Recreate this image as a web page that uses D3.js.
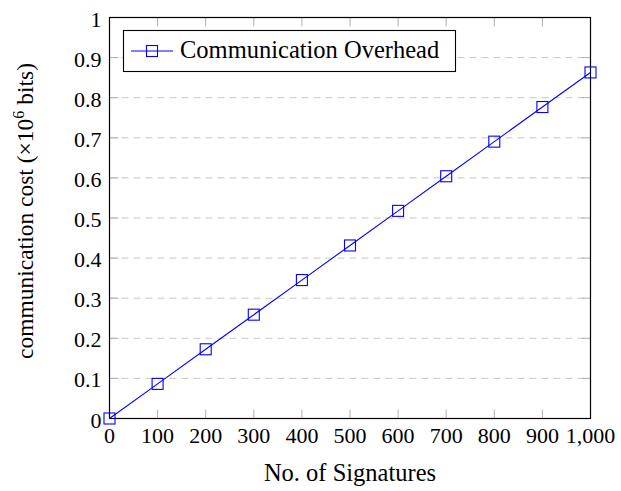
<!DOCTYPE html>
<html>
<head>
<meta charset="utf-8">
<script src="https://cdn.jsdelivr.net/npm/d3@7"></script>
<style>
body { margin: 0; background: #fff; }
text { font-family: "Liberation Serif", "DejaVu Serif", serif; }
</style>
</head>
<body>
<script>
// data
var signatures = [0, 100, 200, 300, 400, 500, 600, 700, 800, 900, 1000];
var overhead = [0, 0.0863, 0.1726, 0.2589, 0.3452, 0.4315, 0.5178, 0.6041, 0.6904, 0.7767, 0.863];
var yTicks = [0, 0.1, 0.2, 0.3, 0.4, 0.5, 0.6, 0.7, 0.8, 0.9, 1];
var seriesName = "Communication Overhead";

var w = 621, h = 491;
var pLeft = 109.5, pRight = 590.5, pTop = 17.5, pBottom = 418.5;

var svg = d3.select("body").append("svg")
    .attr("width", w)
    .attr("height", h);

var x = d3.scaleLinear().domain([0, 1000]).range([pLeft, pRight]);
var y = d3.scaleLinear().domain([0, 1]).range([pBottom, pTop]);

// dashed grid
svg.append("g").selectAll("line")
    .data(yTicks.slice(1, -1))
    .enter().append("line")
    .attr("x1", pLeft).attr("x2", pRight)
    .attr("y1", d => y(d)).attr("y2", d => y(d))
    .style("stroke", "#c8c8c8")
    .style("stroke-width", 1)
    .style("stroke-dasharray", "7,5");

// inward ticks, mirrored
var tk = 9;
var ticks = svg.append("g").style("stroke", "#b0b0b0").style("stroke-width", 1);
signatures.slice(1, -1).forEach(function(d) {
    ticks.append("line").attr("x1", x(d)).attr("x2", x(d)).attr("y1", pBottom).attr("y2", pBottom - tk);
    ticks.append("line").attr("x1", x(d)).attr("x2", x(d)).attr("y1", pTop).attr("y2", pTop + tk);
});
yTicks.slice(1, -1).forEach(function(d) {
    ticks.append("line").attr("x1", pLeft).attr("x2", pLeft + tk).attr("y1", y(d)).attr("y2", y(d));
    ticks.append("line").attr("x1", pRight).attr("x2", pRight - tk).attr("y1", y(d)).attr("y2", y(d));
});

// frame
svg.append("rect")
    .attr("x", pLeft).attr("y", pTop)
    .attr("width", pRight - pLeft).attr("height", pBottom - pTop)
    .style("fill", "none").style("stroke", "#000").style("stroke-width", 1.2);

// tick labels
var fmt = d3.format(",");
svg.append("g").selectAll("text")
    .data(signatures)
    .enter().append("text")
    .attr("x", d => x(d))
    .attr("y", 443)
    .attr("text-anchor", "middle")
    .style("font-size", "22px")
    .text(d => fmt(d));

svg.append("g").selectAll("text")
    .data(yTicks)
    .enter().append("text")
    .attr("x", pLeft - 8)
    .attr("y", d => y(d) + 9)
    .attr("text-anchor", "end")
    .style("font-size", "22px")
    .text(d => d);

// axis titles
svg.append("text")
    .attr("x", 350)
    .attr("y", 481)
    .attr("text-anchor", "middle")
    .style("font-size", "24.5px")
    .text("No. of Signatures");

var yl = svg.append("text")
    .attr("transform", "translate(33,211) rotate(-90)")
    .attr("text-anchor", "middle")
    .style("font-size", "23.5px");
yl.append("tspan").text("communication cost (\u00d710");
yl.append("tspan").attr("dy", -9).style("font-size", "16px").text("6");
yl.append("tspan").attr("dy", 9).text(" bits)");

// series
var line = d3.line().x((d, i) => x(signatures[i])).y(d => y(d));
svg.append("path")
    .datum(overhead)
    .attr("d", line)
    .style("fill", "none").style("stroke", "#0000ff").style("stroke-width", 1.1);

var ms = 11;
svg.append("g").selectAll("rect")
    .data(overhead)
    .enter().append("rect")
    .attr("x", (d, i) => x(signatures[i]) - ms / 2)
    .attr("y", d => y(d) - ms / 2)
    .attr("width", ms).attr("height", ms)
    .style("fill", "none").style("stroke", "#0000ff").style("stroke-width", 1.1);

// legend
var lg = svg.append("g");
lg.append("rect")
    .attr("x", 123.5).attr("y", 30.5)
    .attr("width", 332).attr("height", 41)
    .style("fill", "#fff").style("stroke", "#000").style("stroke-width", 1.1);
lg.append("line")
    .attr("x1", 131).attr("x2", 173).attr("y1", 51).attr("y2", 51)
    .style("stroke", "#0000ff").style("stroke-width", 1.1);
lg.append("rect")
    .attr("x", 152 - ms / 2).attr("y", 51 - ms / 2)
    .attr("width", ms).attr("height", ms)
    .style("fill", "none").style("stroke", "#0000ff").style("stroke-width", 1.1);
lg.append("text")
    .attr("x", 180).attr("y", 58)
    .style("font-size", "24.5px")
    .text(seriesName);
</script>
</body>
</html>
